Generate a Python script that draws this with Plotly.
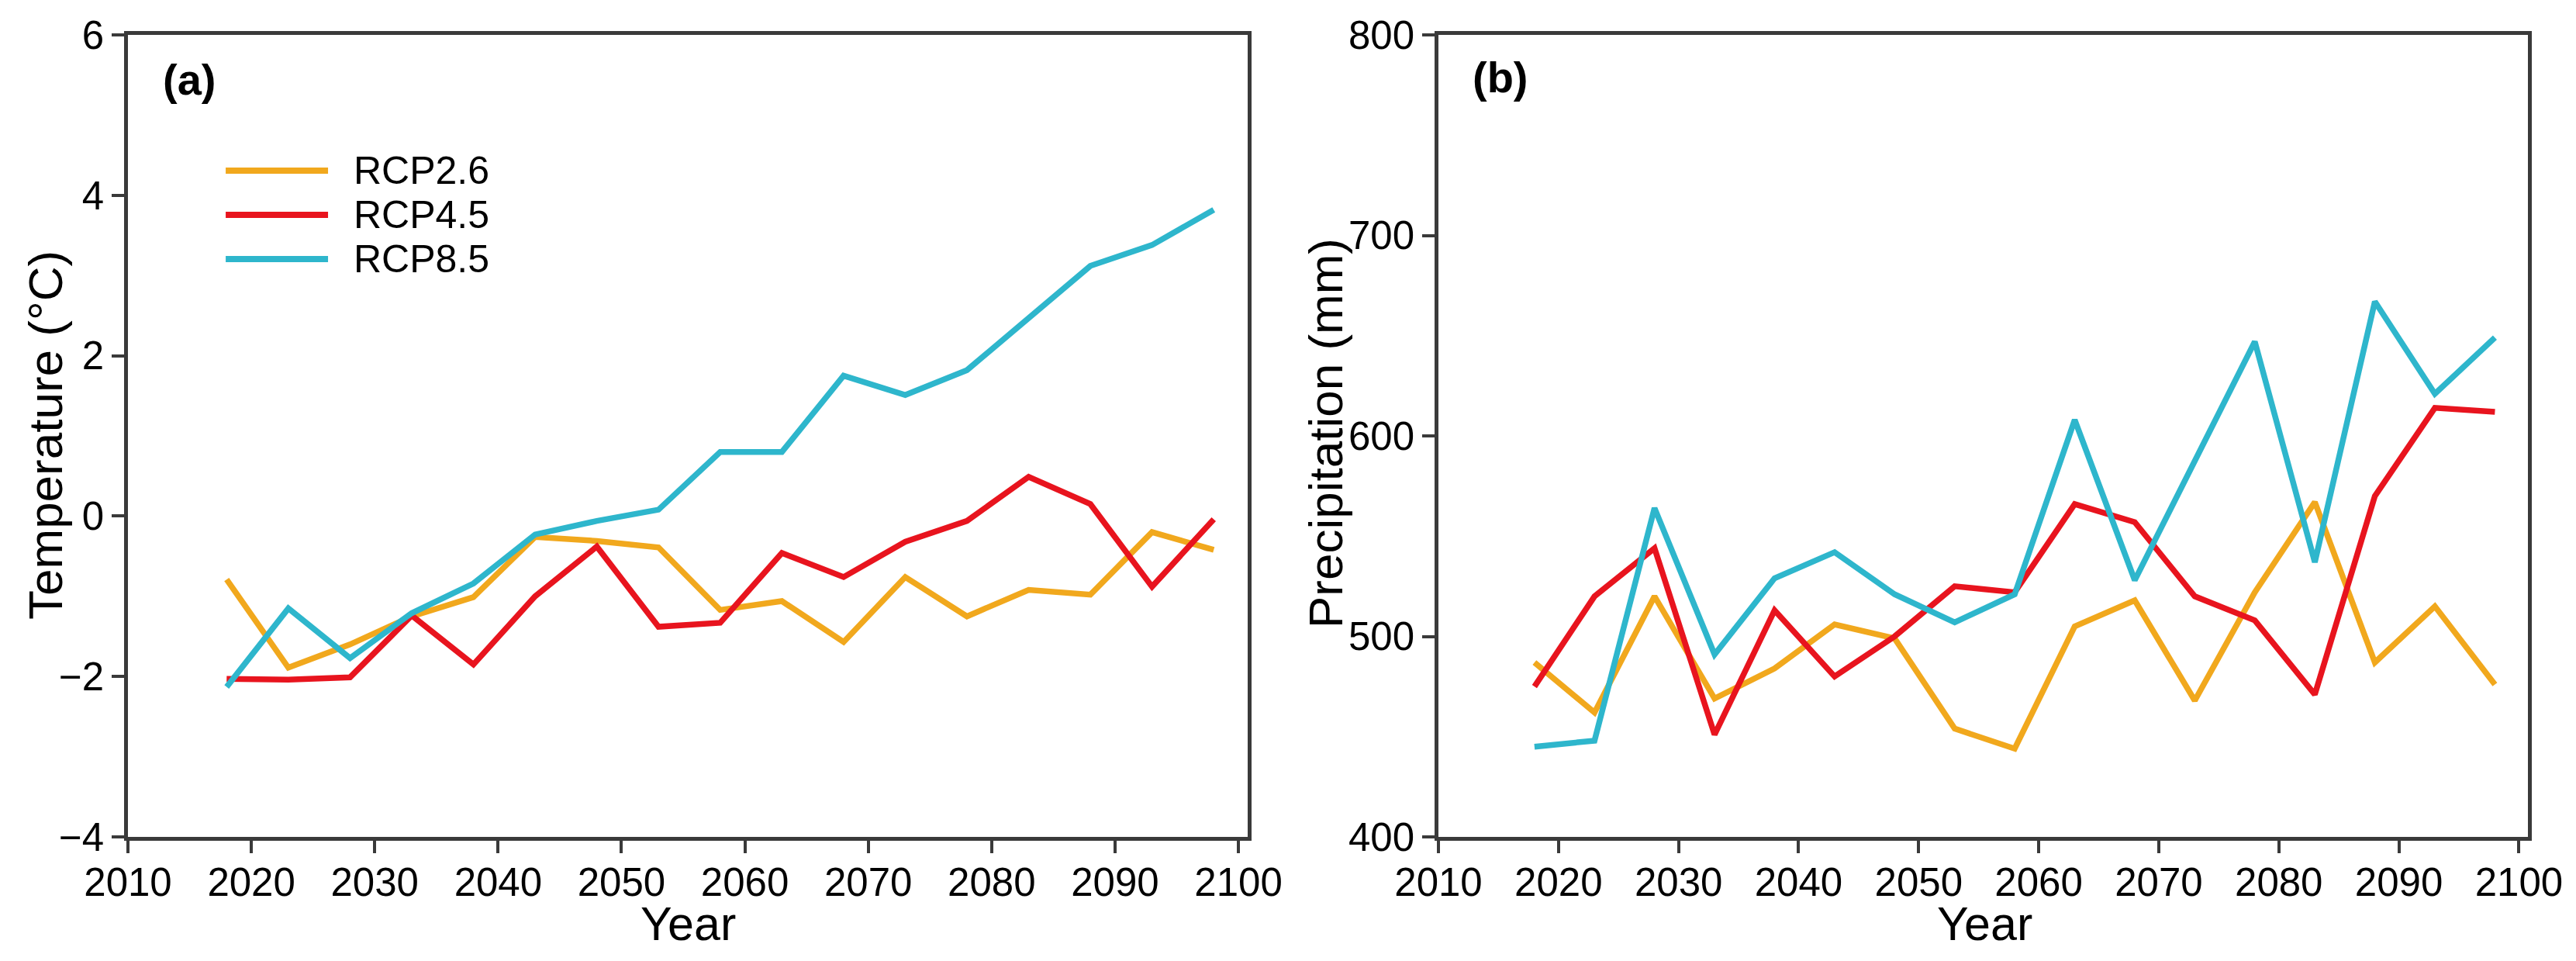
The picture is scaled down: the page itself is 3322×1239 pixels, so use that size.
import plotly.graph_objects as go

# ---------------- data ----------------
years = [2018, 2023, 2028, 2033, 2038, 2043, 2048, 2053, 2058,
         2063, 2068, 2073, 2078, 2083, 2088, 2093, 2098]

scenarios = ["RCP2.6", "RCP4.5", "RCP8.5"]

temp_rcp26 = [-0.79, -1.89, -1.60, -1.25, -1.01, -0.26, -0.31, -0.39, -1.17,
              -1.06, -1.57, -0.76, -1.25, -0.92, -0.98, -0.20, -0.42]
temp_rcp45 = [-2.03, -2.04, -2.01, -1.24, -1.85, -1.00, -0.38, -1.38, -1.33,
              -0.46, -0.76, -0.32, -0.06, 0.49, 0.15, -0.88, -0.04]
temp_rcp85 = [-2.13, -1.15, -1.77, -1.21, -0.84, -0.23, -0.06, 0.08, 0.80,
              0.80, 1.75, 1.51, 1.82, 2.48, 3.12, 3.38, 3.82]

prec_rcp26 = [487, 462, 520, 469, 484, 506, 499, 454, 444,
              505, 518, 468, 522, 567, 487, 515, 476]
prec_rcp45 = [475, 520, 544, 451, 513, 480, 500, 525, 522,
              566, 557, 520, 508, 471, 570, 614, 612]
prec_rcp85 = [445, 448, 564, 491, 529, 542, 521, 507, 521,
              608, 528, 587, 647, 537, 667, 621, 649]

colors = ["#F1A81D", "#E8141E", "#2EB6CC"]

# ---------------- figure ----------------
W, H = 3322, 1239
FONT = "Liberation Sans, Arial, sans-serif"
AXC = "#3a3a3a"

fig = go.Figure()

for name, vals, c in zip(scenarios, [temp_rcp26, temp_rcp45, temp_rcp85], colors):
    fig.add_trace(go.Scatter(x=years, y=vals, mode="lines", name=name,
                             line=dict(color=c, width=7.5),
                             xaxis="x", yaxis="y", showlegend=False))

for name, vals, c in zip(scenarios, [prec_rcp26, prec_rcp45, prec_rcp85], colors):
    fig.add_trace(go.Scatter(x=years, y=vals, mode="lines", name=name,
                             line=dict(color=c, width=7.5),
                             xaxis="x2", yaxis="y2", showlegend=False))

ydom = [1 - 1079 / H, 1 - 45 / H]

axis_common = dict(showline=True, linewidth=4.5, linecolor=AXC, mirror=True,
                   ticks="outside", ticklen=16, tickwidth=4, tickcolor=AXC,
                   showgrid=False, zeroline=False, automargin=False,
                   tickfont=dict(family=FONT, size=51, color="#000000"))

fig.update_layout(
    template="none",
    width=W, height=H,
    margin=dict(l=0, r=0, t=0, b=0, pad=0),
    paper_bgcolor="white", plot_bgcolor="white",
    font=dict(family=FONT, color="#000000"),
    xaxis=dict(domain=[165 / W, 1609 / W], range=[2010, 2100.75],
               tick0=2010, dtick=10, anchor="y", ticklabelstandoff=-6,
               **axis_common),
    yaxis=dict(domain=ydom, range=[-4, 6], tick0=-4, dtick=2,
               anchor="x", **axis_common),
    xaxis2=dict(domain=[1855 / W, 3260 / W], range=[2010, 2100.75],
                tick0=2010, dtick=10, anchor="y2", ticklabelstandoff=-6,
                **axis_common),
    yaxis2=dict(domain=ydom, range=[400, 800], tick0=400, dtick=100,
                anchor="x2", **axis_common),
)

annotations = [
    dict(text="<b>(a)</b>", xref="x domain", yref="y domain", x=0.0298, y=0.944,
         xanchor="left", yanchor="middle", showarrow=False,
         font=dict(family=FONT, size=56, color="#000000")),
    dict(text="<b>(b)</b>", xref="x2 domain", yref="y2 domain", x=0.030, y=0.947,
         xanchor="left", yanchor="middle", showarrow=False,
         font=dict(family=FONT, size=56, color="#000000")),
    dict(text="Year", xref="paper", yref="paper", x=888 / W, y=1 - 1191 / H,
         xanchor="center", yanchor="middle", showarrow=False,
         font=dict(family=FONT, size=61, color="#000000")),
    dict(text="Year", xref="paper", yref="paper", x=2559 / W, y=1 - 1191 / H,
         xanchor="center", yanchor="middle", showarrow=False,
         font=dict(family=FONT, size=61, color="#000000")),
    dict(text="Temperature (°C)", xref="paper", yref="paper", x=58 / W, y=1 - 561 / H,
         xanchor="center", yanchor="middle", textangle=-90, showarrow=False,
         font=dict(family=FONT, size=62, color="#000000")),
    dict(text="Precipitation (mm)", xref="paper", yref="paper", x=1709 / W, y=1 - 559 / H,
         xanchor="center", yanchor="middle", textangle=-90, showarrow=False,
         font=dict(family=FONT, size=62, color="#000000")),
]

# manual legend in panel (a)
legend_rows = [0.8308, 0.7756, 0.7205]
shapes = []
for name, c, yy in zip(scenarios, colors, legend_rows):
    shapes.append(dict(type="line", xref="x domain", yref="y domain",
                       x0=0.0873, x1=0.1787, y0=yy, y1=yy,
                       line=dict(color=c, width=8)))
    annotations.append(dict(text=name, xref="x domain", yref="y domain",
                            x=0.2001, y=yy, xanchor="left", yanchor="middle",
                            showarrow=False,
                            font=dict(family=FONT, size=50, color="#000000")))

fig.update_layout(annotations=annotations, shapes=shapes)

fig.write_html("out.html",
               config={"displayModeBar": False},
               post_script="document.body.style.margin='0';document.body.style.overflow='hidden';")
